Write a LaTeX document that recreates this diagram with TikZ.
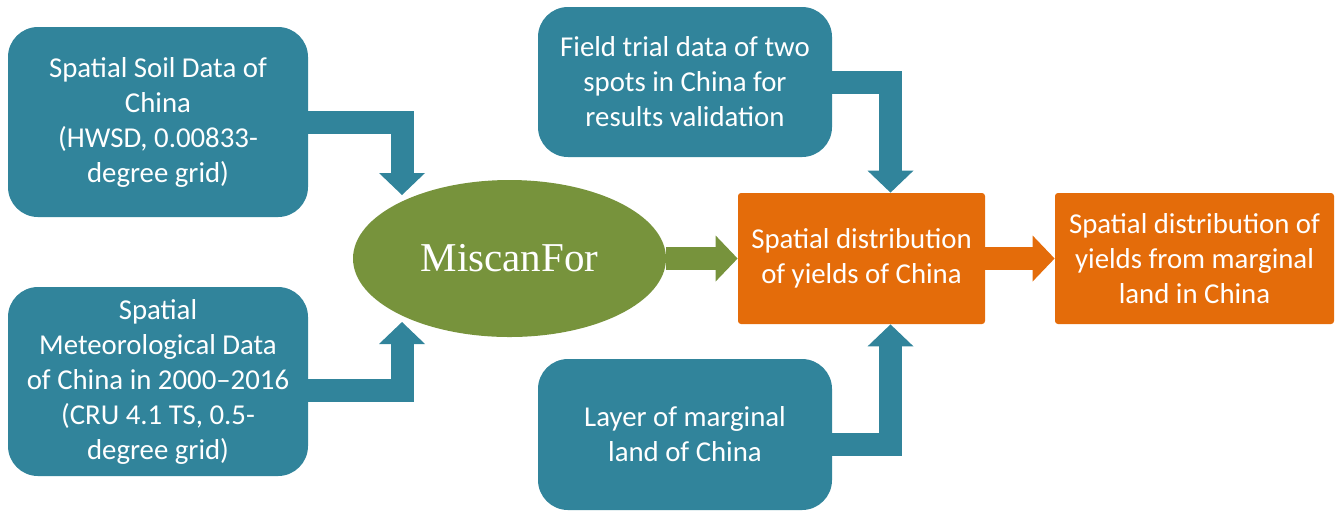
\documentclass[tikz,border=0pt]{standalone}
\usepackage{fontspec}
\setmainfont{Carlito}
\newfontfamily\modelfont{Liberation Serif}
\usetikzlibrary{shapes.geometric,arrows.meta}
\definecolor{tealbox}{HTML}{31849B}
\definecolor{greenbox}{HTML}{77933C}
\definecolor{orangebox}{HTML}{E46C0A}

\begin{document}
\begin{tikzpicture}[x=0.5pt,y=-0.5pt,
    databox/.style={fill=tealbox,rounded corners=15pt,text=white,align=center,
      inner sep=0pt,font=\fontsize{14.4pt}{17.5pt}\selectfont},
    resbox/.style={fill=orangebox,rounded corners=1.5pt,text=white,align=center,
      inner sep=0pt,font=\fontsize{14.4pt}{17.5pt}\selectfont},
    blockarrow/.style={line width=11.5pt,
      -{Triangle[width=23pt,length=11pt,line width=0pt]}}]
    \useasboundingbox (0,0) rectangle (1337,511);
    % inputs
    \node (soil) at (158,122) [databox,minimum width=150pt,minimum height=95pt]
      {Spatial Soil Data of\\China\\(HWSD, 0.00833-\\degree grid)};
    \node (meteo) at (158,381.5) [databox,minimum width=150pt,minimum height=94.5pt]
      {Spatial\\Meteorological Data\\of China in 2000--2016\\(CRU 4.1 TS, 0.5-\\degree grid)};
    \node (field) at (685,82) [databox,minimum width=147pt,minimum height=75pt]
      {Field trial data of two\\spots in China for\\results validation};
    \node (marginal) at (685,434.5) [databox,minimum width=147pt,minimum height=75.5pt]
      {Layer of marginal\\land of China};
    % model
    \node (miscan) at (509.5,258.5) [ellipse,fill=greenbox,text=white,inner sep=0pt,
      minimum width=156.5pt,minimum height=78.5pt,
      font=\modelfont\fontsize{20.5pt}{23pt}\selectfont] {MiscanFor};
    % outputs
    \node (yield1) at (861.5,258.5) [resbox,minimum width=123.5pt,minimum height=65.5pt]
      {Spatial distribution\\of yields of China};
    \node (yield2) at (1194.5,258.5) [resbox,minimum width=139.5pt,minimum height=65.5pt]
      {Spatial distribution of\\yields from marginal\\land in China};
    \coordinate (soilIn) at (402,195);
    \coordinate (meteoIn) at (402,322);
    \draw[blockarrow,tealbox] (soil.east) -| (soilIn);
    \draw[blockarrow,tealbox] ([yshift=-4.5pt]meteo.east) -| (meteoIn);
    \draw[blockarrow,tealbox] (field.east) -| ([xshift=14.5pt]yield1.north);
    \draw[blockarrow,tealbox] ([yshift=-5pt]marginal.east) -| ([xshift=14.5pt]yield1.south);
    \draw[blockarrow,greenbox] (miscan.east) -- (yield1.west);
    \draw[blockarrow,orangebox] (yield1.east) -- (yield2.west);
\end{tikzpicture}
\end{document}
